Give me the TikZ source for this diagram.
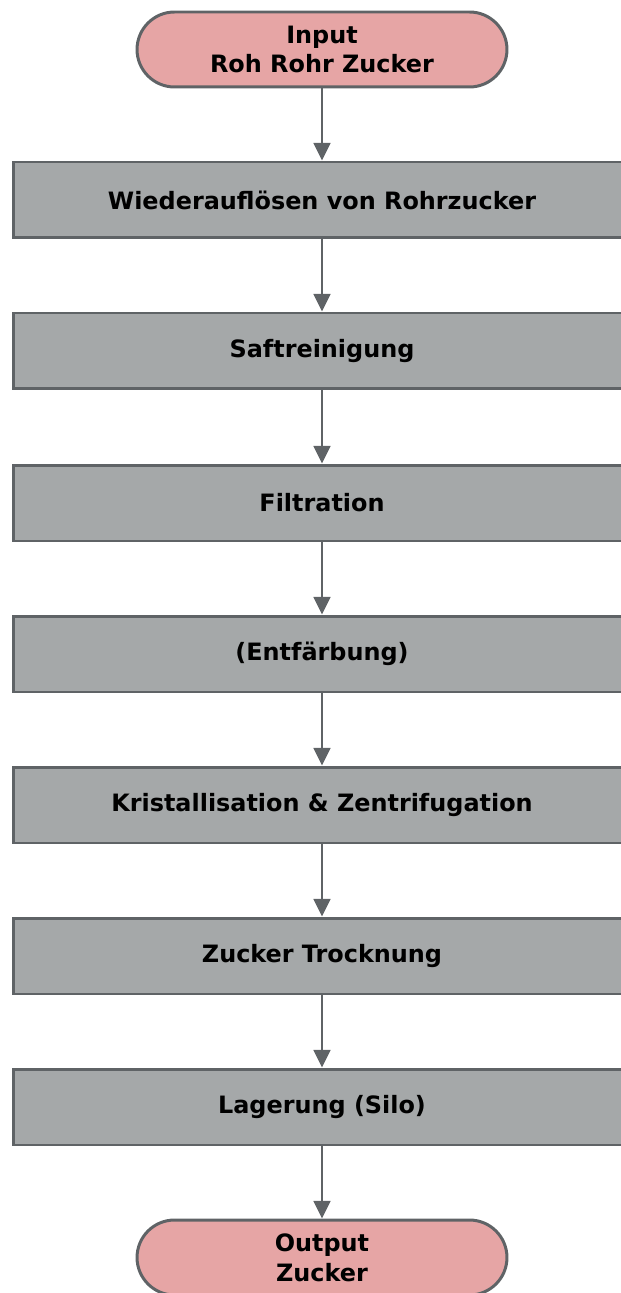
\documentclass[tikz,border=0pt]{standalone}
\usepackage{fontspec}
\setmainfont{DejaVu Sans}
\usetikzlibrary{arrows.meta}
\definecolor{termfill}{HTML}{E6A5A5}
\definecolor{stepfill}{HTML}{A5A8A9}
\definecolor{edgegray}{HTML}{5F6366}
\tikzset{
  terminal/.style={draw=edgegray, line width=1.7pt, fill=termfill, rounded corners=0.75cm,
    minimum width=7.4cm, minimum height=1.5cm, align=center, font=\fontsize{13.6}{17}\selectfont\bfseries},
  stepbox/.style={draw=edgegray, line width=1.7pt, fill=stepfill,
    minimum width=12.36cm, minimum height=1.52cm, align=center, font=\fontsize{13.6}{17}\selectfont\bfseries},
  flow/.style={draw=edgegray, line width=1.1pt, -{Triangle[width=9.6pt,length=10pt]}}
}
\begin{document}
\begin{tikzpicture}[x=0.02cm,y=-0.02cm]
\path[use as bounding box] (0,0) rectangle (621,1293);
\clip (0,0) rectangle (621,1293);
\node[terminal] (input) at (322,49.5) {Input\\Roh Rohr Zucker};
\node[stepbox] (wieder) at (322,200) {Wiederauflösen von Rohrzucker};
\node[stepbox] (saft) at (322,351) {Saftreinigung};
\node[stepbox] (filt) at (322,503) {Filtration};
\node[stepbox] (entf) at (322,654) {(Entfärbung)};
\node[stepbox] (krist) at (322,805) {Kristallisation \& Zentrifugation};
\node[stepbox] (trock) at (322,956) {Zucker Trocknung};
\node[stepbox] (lager) at (322,1107) {Lagerung (Silo)};
\node[terminal] (output) at (322,1257.5) {Output\\Zucker};
\draw[flow] (input) -- (wieder);
\draw[flow] (wieder) -- (saft);
\draw[flow] (saft) -- (filt);
\draw[flow] (filt) -- (entf);
\draw[flow] (entf) -- (krist);
\draw[flow] (krist) -- (trock);
\draw[flow] (trock) -- (lager);
\draw[flow] (lager) -- (output);
\end{tikzpicture}
\end{document}
